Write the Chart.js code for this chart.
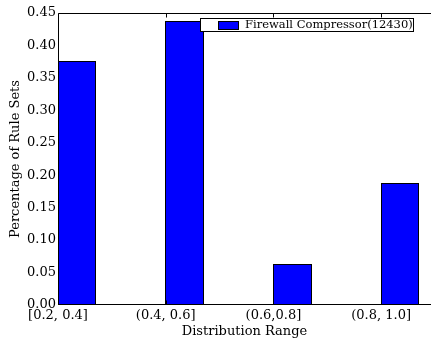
<!DOCTYPE html>
<html>
<head>
<meta charset="utf-8">
<script src="https://cdn.jsdelivr.net/npm/chart.js@4"></script>
<style>
  body { margin: 0; background: #fff; }
  #wrap { width: 431px; height: 341px; }
</style>
</head>
<body>
<div id="wrap"><canvas id="barChart" width="431" height="341"></canvas></div>
<script>
// data
const categories = ['[0.2, 0.4]', '(0.4, 0.6]', '(0.6,0.8]', '(0.8, 1.0]'];
const shares = [0.375, 0.4375, 0.0625, 0.1875];
const seriesLabel = 'Firewall Compressor(12430)';
const yTicks = [0, 0.05, 0.1, 0.15, 0.2, 0.25, 0.3, 0.35, 0.4, 0.45];

const BAR_W = 0.35;   // bars start at the tick, like matplotlib align='edge'
const SERIF = "'DejaVu Serif', serif";

// crisp bar outlines, spines, inward ticks and the legend box
const frame = {
  id: 'frame',
  afterDatasetsDraw(chart) {
    const { ctx, chartArea: a, scales: { x } } = chart;
    const L = Math.round(a.left) + 0.5, T = Math.round(a.top) + 0.5, B = Math.round(a.bottom) - 0.5;
    ctx.save();
    ctx.strokeStyle = '#000';
    ctx.lineWidth = 1;

    // outline each bar on the edge pixels of its own fill
    chart.getDatasetMeta(0).data.forEach(bar => {
      const l = Math.floor(bar.x - bar.width / 2) + 0.5;
      const r = Math.ceil(bar.x + bar.width / 2) - 0.5;
      const t = Math.floor(bar.y) + 0.5;
      ctx.strokeRect(l, t, r - l, B - t);
    });

    ctx.beginPath();
    ctx.moveTo(L, B); ctx.lineTo(L, T); ctx.lineTo(a.right, T);
    ctx.moveTo(L, B); ctx.lineTo(a.right, B);
    categories.forEach((c, i) => {
      const px = Math.round(x.getPixelForValue(i)) + 0.5;
      ctx.moveTo(px, T); ctx.lineTo(px, T + 4);
      ctx.moveTo(px, B); ctx.lineTo(px, B - 4);
    });
    ctx.stroke();

    // legend
    ctx.fillStyle = '#fff';
    ctx.fillRect(200.5, 18.5, 213, 13);
    ctx.strokeRect(200.5, 18.5, 213, 13);
    ctx.fillStyle = '#0000ff';
    ctx.fillRect(218.5, 21.5, 20, 8);
    ctx.strokeRect(218.5, 21.5, 20, 8);
    ctx.fillStyle = '#000';
    ctx.font = '11.5px ' + SERIF;
    ctx.textBaseline = 'middle';
    ctx.fillText(chart.data.datasets[0].label, 245, 25);
    ctx.restore();
  }
};

new Chart(document.getElementById('barChart'), {
  type: 'bar',
  data: {
    datasets: [{
      label: seriesLabel,
      data: shares.map((v, i) => ({ x: i + BAR_W / 2, y: v })),
      backgroundColor: '#0000ff',
      borderWidth: 0,
      barPercentage: BAR_W,
      categoryPercentage: 1
    }]
  },
  options: {
    responsive: false,
    animation: false,
    layout: { padding: { top: 13, right: 0, left: 0, bottom: 0 } },
    plugins: { legend: { display: false }, tooltip: { enabled: false } },
    scales: {
      x: {
        type: 'linear',
        offset: false,
        min: 0,
        max: 3.463,
        afterBuildTicks: s => { s.ticks = categories.map((c, i) => ({ value: i })); },
        afterFit: s => { s.height = 36; },
        grid: { display: false, drawTicks: false },
        border: { display: false },
        ticks: {
          autoSkip: false,
          maxRotation: 0,
          padding: 3,
          color: '#000',
          font: { family: SERIF, size: 13 },
          callback: v => categories[v]
        },
        title: {
          display: true,
          text: 'Distribution Range',
          color: '#000',
          font: { family: SERIF, size: 13 },
          padding: { top: 0, bottom: 2 }
        }
      },
      y: {
        min: 0,
        max: 0.45,
        afterBuildTicks: s => { s.ticks = yTicks.map(v => ({ value: v })); },
        afterFit: s => { s.width = 58; },
        grid: { display: false, drawTicks: false },
        border: { display: false },
        ticks: {
          padding: 2,
          color: '#000',
          font: { family: SERIF, size: 13 },
          callback: v => v.toFixed(2)
        },
        title: {
          display: true,
          text: 'Percentage of Rule Sets',
          color: '#000',
          font: { family: SERIF, size: 13 },
          padding: { top: 8, bottom: 0 }
        }
      }
    }
  },
  plugins: [frame]
});
</script>
</body>
</html>
